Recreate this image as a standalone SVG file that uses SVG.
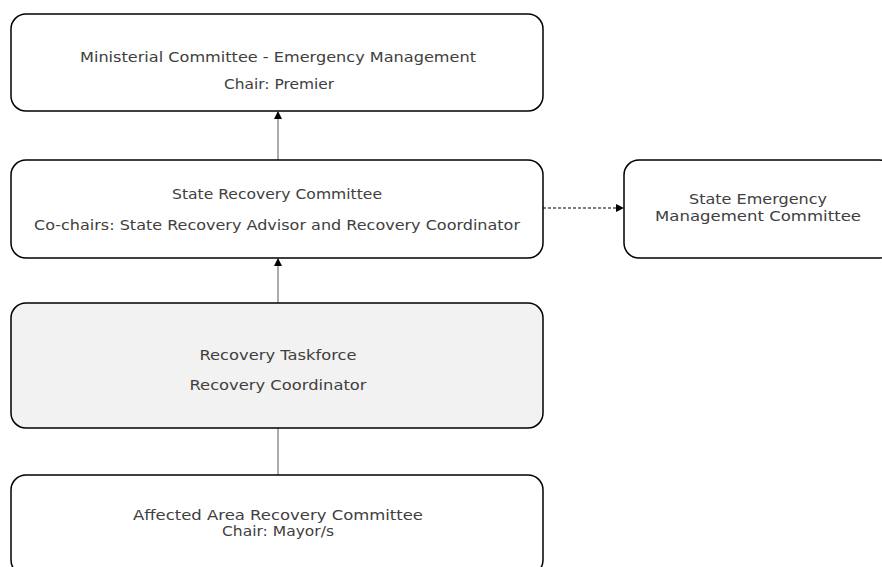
<svg xmlns="http://www.w3.org/2000/svg" width="882" height="567" viewBox="0 0 882 567">
<style>
.box{fill:#fff;stroke:#000;stroke-width:1.5}
.grey{fill:#f2f2f2}
text{font-family:"DejaVu Sans","Liberation Sans",Arial,sans-serif;font-size:13.5px;fill:#404040;text-anchor:middle}
.conn{stroke:#595959;stroke-width:1;fill:none}
.dash{stroke:#000;stroke-width:1;fill:none;stroke-dasharray:3,2}
</style>
<defs>
<marker id="arr" markerWidth="8" markerHeight="8" refX="7" refY="4" orient="auto" markerUnits="userSpaceOnUse">
<path d="M0,0 L8,4 L0,8 Z" fill="#000"/>
</marker>
</defs>
<rect width="882" height="567" fill="#fff"/>
<g id="connectors">
<line class="conn" x1="278" y1="160" x2="278" y2="112" marker-end="url(#arr)"/>
<line class="conn" x1="278" y1="303" x2="278" y2="259" marker-end="url(#arr)"/>
<line class="conn" x1="278" y1="475" x2="278" y2="428"/>
<line class="dash" x1="543" y1="208" x2="623" y2="208" marker-end="url(#arr)"/>
</g>
<g id="ministerial">
<rect class="box" x="11" y="14" width="532" height="97" rx="15"/>
<text x="278" y="62" textLength="396" lengthAdjust="spacingAndGlyphs">Ministerial  Committee - Emergency Management</text>
<text x="279" y="89" textLength="110" lengthAdjust="spacingAndGlyphs">Chair: Premier</text>
</g>
<g id="state-recovery">
<rect class="box" x="11" y="160" width="532" height="98" rx="15"/>
<text x="277" y="199" textLength="210" lengthAdjust="spacingAndGlyphs">State Recovery Committee</text>
<text x="277" y="230" textLength="486" lengthAdjust="spacingAndGlyphs">Co-chairs: State Recovery Advisor and Recovery Coordinator</text>
</g>
<g id="state-emergency">
<rect class="box" x="624" y="160" width="270" height="98" rx="15"/>
<text x="758" y="204" textLength="138" lengthAdjust="spacingAndGlyphs">State Emergency</text>
<text x="758" y="221" textLength="206" lengthAdjust="spacingAndGlyphs">Management Committee</text>
</g>
<g id="taskforce">
<rect class="box grey" x="11" y="303" width="532" height="125" rx="15"/>
<text x="278" y="360" textLength="157" lengthAdjust="spacingAndGlyphs">Recovery Taskforce</text>
<text x="278" y="390" textLength="177" lengthAdjust="spacingAndGlyphs">Recovery Coordinator</text>
</g>
<g id="affected">
<rect class="box" x="11" y="475" width="532" height="100" rx="15"/>
<text x="278" y="520" textLength="290" lengthAdjust="spacingAndGlyphs">Affected Area Recovery Committee</text>
<text x="278" y="536" textLength="112" lengthAdjust="spacingAndGlyphs">Chair: Mayor/s</text>
</g>
</svg>
